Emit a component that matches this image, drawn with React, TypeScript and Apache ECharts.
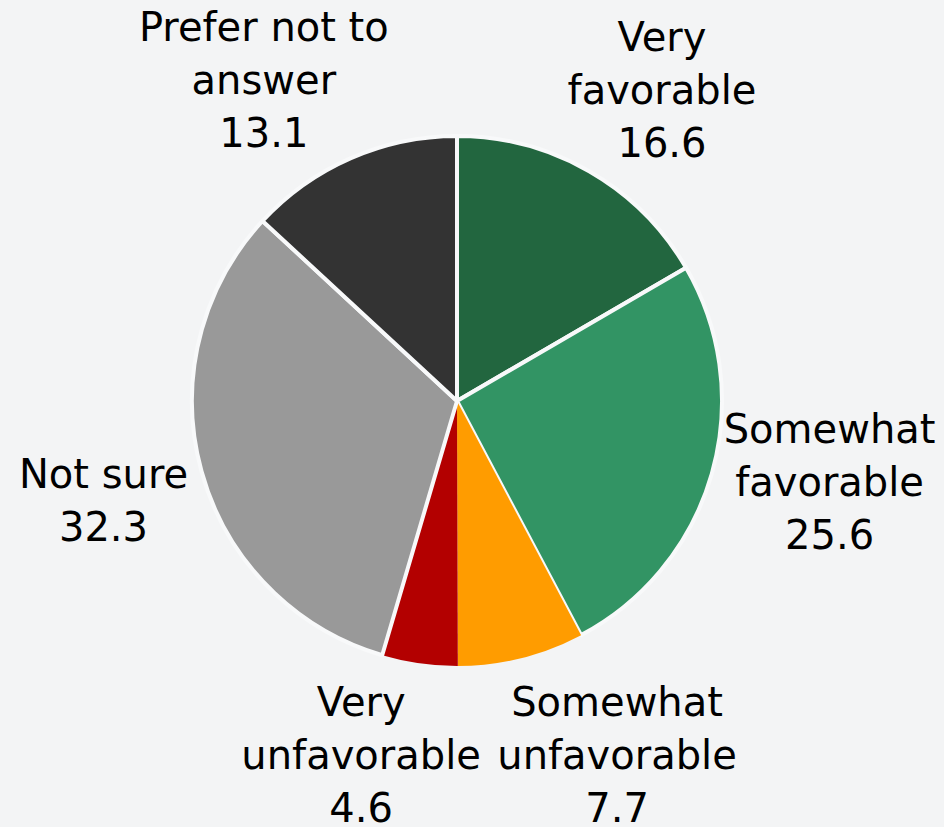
import React, { useEffect, useRef } from "react";
import * as echarts from "echarts";

const categories = [
  "Very\nfavorable",
  "Somewhat\nfavorable",
  "Somewhat\nunfavorable",
  "Very\nunfavorable",
  "Not sure",
  "Prefer not to\nanswer",
];
const values = [16.6, 25.6, 7.7, 4.6, 32.3, 13.1];
const colors = ["#22663f", "#329464", "#ff9c00", "#b30000", "#999999", "#333333"];
const borderWidths = [4, 4, 0, 0, 4, 4];

// layout constants (style, not data)
const W = 944;
const H = 827;
const CX = 457;
const CY = 401;
const R = 265;
const LABEL_R = 375;
const LABEL_NUDGE: [number, number][] = [
  [18, 14],
  [12, -22],
  [69, -10],
  [-43, -17],
  [8, 0],
  [-43, 23],
];

export default function App() {
  const ref = useRef<HTMLDivElement>(null);
  useEffect(() => {
    if (!ref.current) return;
    const chart = echarts.init(ref.current, undefined, { renderer: "svg" });
    const total = values.reduce((a, b) => a + b, 0);
    const mids: number[] = [];
    let acc = 0;
    values.forEach((v) => {
      mids.push(((acc + v / 2) / total) * Math.PI * 2);
      acc += v;
    });
    chart.setOption({
      animation: false,
      backgroundColor: "#f3f4f5",
      series: [
        {
          type: "pie",
          center: [CX, CY],
          radius: R,
          startAngle: 90,
          clockwise: true,
          avoidLabelOverlap: false,
          data: categories.map((name, i) => ({
            name,
            value: values[i],
            itemStyle: {
              color: colors[i],
              borderColor: "#f8f9fa",
              borderWidth: borderWidths[i],
            },
          })),
          label: {
            show: true,
            position: "outside",
            alignTo: "none",
            overflow: "none",
            bleedMargin: 0,
            formatter: (p: any) => `${p.name}\n${p.value.toFixed(1)}`,
            fontFamily: "DejaVu Sans",
            fontSize: 40,
            lineHeight: 53,
            color: "#000000",
            align: "center",
          },
          labelLine: { show: false },
          labelLayout: (params: any) => {
            const i = params.dataIndex;
            const a = mids[i];
            return {
              x: CX + LABEL_R * Math.sin(a) + LABEL_NUDGE[i][0],
              y: CY - LABEL_R * Math.cos(a) + LABEL_NUDGE[i][1],
              align: "center",
              verticalAlign: "middle",
            };
          },
          emphasis: { disabled: true },
        },
      ],
    });
    return () => chart.dispose();
  }, []);
  return (
    <div
      ref={ref}
      style={{ position: "absolute", left: 0, top: 0, width: W, height: H }}
    />
  );
}
